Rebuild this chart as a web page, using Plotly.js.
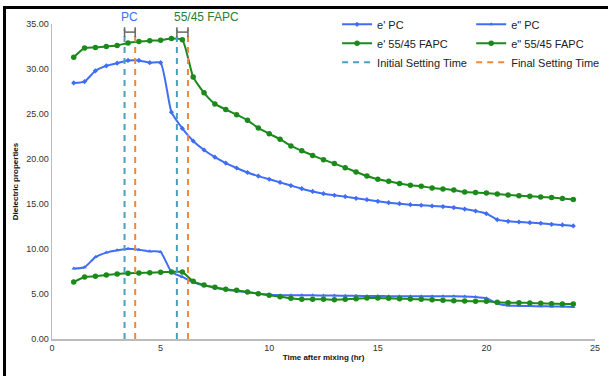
<!DOCTYPE html>
<html>
<head>
<meta charset="utf-8">
<script src="https://cdn.plot.ly/plotly-3.0.1.min.js"></script>
<style>
html,body{margin:0;padding:0;background:#fff;}
#wrap{position:relative;width:608px;height:376px;}
#chart{width:608px;height:376px;}
#bt{position:absolute;left:3px;top:6px;width:605px;height:3px;background:#000;}
#bl{position:absolute;left:3px;top:6px;width:3px;height:370px;background:#000;}
</style>
</head>
<body>
<div id="wrap"><div id="chart"></div><div id="bt"></div><div id="bl"></div></div>
<script>
const hours = [1,1.5,2,2.5,3,3.5,4,4.5,5,5.5,6,6.5,7,7.5,8,8.5,9,9.5,10,10.5,11,11.5,12,12.5,13,13.5,14,14.5,15,15.5,16,16.5,17,17.5,18,18.5,19,19.5,20,20.5,21,21.5,22,22.5,23,23.5,24];
const ePrimePC = [28.45,28.6,29.8,30.35,30.65,30.95,30.95,30.7,30.7,25.2,23.4,22.0,21.0,20.2,19.55,19.0,18.5,18.1,17.75,17.4,17.05,16.7,16.4,16.15,15.97,15.82,15.63,15.48,15.3,15.15,15.04,14.93,14.86,14.78,14.71,14.6,14.44,14.22,13.93,13.26,13.08,13.0,12.93,12.86,12.74,12.67,12.56];
const eDoublePC = [7.82,7.97,9.1,9.6,9.86,10.04,9.93,9.74,9.67,7.45,6.9,6.3,5.96,5.7,5.48,5.33,5.19,5.04,4.93,4.87,4.85,4.85,4.85,4.83,4.82,4.8,4.8,4.78,4.77,4.76,4.75,4.75,4.74,4.74,4.74,4.74,4.73,4.67,4.52,3.93,3.71,3.68,3.66,3.64,3.62,3.6,3.56];
const ePrimeFAPC = [31.3,32.33,32.4,32.5,32.6,32.9,33.05,33.15,33.2,33.4,33.25,29.1,27.35,26.12,25.5,24.92,24.3,23.45,22.8,22.2,21.45,20.92,20.4,19.93,19.49,19.04,18.56,18.11,17.74,17.52,17.27,17.08,16.97,16.78,16.67,16.55,16.33,16.27,16.22,16.11,16.0,15.93,15.86,15.78,15.71,15.6,15.49];
const eDoubleFAPC = [6.33,6.89,6.96,7.11,7.22,7.3,7.33,7.37,7.41,7.45,7.45,6.41,6.0,5.74,5.52,5.41,5.22,5.04,4.85,4.7,4.52,4.41,4.41,4.41,4.37,4.41,4.48,4.56,4.56,4.52,4.48,4.44,4.41,4.37,4.3,4.26,4.22,4.19,4.19,4.07,4.04,4.04,4.0,3.96,3.93,3.89,3.89];
const initialSet = [3.34, 5.75];   // PC, 55/45 FAPC
const finalSet = [3.83, 6.26];
const setLineTop = 34.4;
const rangeBarY = 34.1;
const xTicks = [0,5,10,15,20,25];
const yTicks = [0,5,10,15,20,25,30,35];

const BLUE = '#3f6ef5', GREEN = '#1b8a1b', TEAL = '#4aa0be', ORANGE = '#f0883a';

function vline(xs) {
  const x = [], y = [];
  xs.forEach((v, i) => { if (i) { x.push(null); y.push(null); } x.push(v, v); y.push(0, setLineTop); });
  return {x, y};
}
const iv = vline(initialSet), fv = vline(finalSet);

const traces = [
  {x: hours, y: ePrimePC, name: "e' PC", mode: 'lines+markers', legend: 'legend',
   line: {color: BLUE, width: 2, shape: 'spline', smoothing: 0.5}, marker: {color: BLUE, size: 4, symbol: 'diamond'}},
  {x: hours, y: eDoublePC, name: 'e" PC', mode: 'lines+markers', legend: 'legend2',
   line: {color: BLUE, width: 2, shape: 'spline', smoothing: 0.5}, marker: {color: BLUE, size: 4, symbol: 'triangle-up'}},
  {x: hours, y: ePrimeFAPC, name: "e' 55/45 FAPC", mode: 'lines+markers', legend: 'legend',
   line: {color: GREEN, width: 2, shape: 'spline', smoothing: 0.5}, marker: {color: GREEN, size: 5.5, symbol: 'circle'}},
  {x: hours, y: eDoubleFAPC, name: 'e" 55/45 FAPC', mode: 'lines+markers', legend: 'legend2',
   line: {color: GREEN, width: 2, shape: 'spline', smoothing: 0.5}, marker: {color: GREEN, size: 5.5, symbol: 'circle'}},
  {x: iv.x, y: iv.y, name: 'Initial Setting Time', mode: 'lines', legend: 'legend',
   line: {color: TEAL, width: 2, dash: '6px,5px'}},
  {x: fv.x, y: fv.y, name: 'Final Setting Time', mode: 'lines', legend: 'legend2',
   line: {color: ORANGE, width: 2, dash: '6px,5px'}},
  {x: [initialSet[0], finalSet[0], null, initialSet[1], finalSet[1]], y: [rangeBarY, rangeBarY, null, rangeBarY, rangeBarY],
   mode: 'lines+markers', showlegend: false, hoverinfo: 'skip',
   line: {color: '#666', width: 1.5}, marker: {symbol: 'line-ns-open', size: 7, color: '#666', line: {color: '#666', width: 1.5}}}
];

const legendCommon = {font: {family: 'Liberation Sans, Arial, sans-serif', size: 11, color: '#222'},
  bgcolor: 'rgba(0,0,0,0)', itemwidth: 30, tracegroupgap: 0, yanchor: 'top', xanchor: 'left'};

const layout = {
  width: 608, height: 376,
  margin: {l: 52, r: 13, t: 24, b: 37, autoexpand: false},
  paper_bgcolor: '#fff', plot_bgcolor: '#fff',
  font: {family: 'Liberation Sans, Arial, sans-serif', size: 9, color: '#333'},
  xaxis: {range: [0, 25], tickvals: xTicks, ticktext: xTicks.map(String), showgrid: false, zeroline: false,
    showline: true, linecolor: '#bbb', linewidth: 1.5, ticks: '', tickfont: {size: 9, color: '#333'}, automargin: false,
    title: {text: '<b>Time after mixing (hr)</b>', font: {size: 8, color: '#111'}, standoff: 2}},
  yaxis: {range: [0, 35], tickvals: yTicks, ticktext: yTicks.map(v => v.toFixed(2)), showgrid: false, zeroline: false,
    showline: true, linecolor: '#bbb', linewidth: 1.5, ticks: '', tickfont: {size: 9, color: '#333'}, automargin: false,
    title: {text: '<b>Dielectric properties</b>', font: {size: 8, color: '#111'}, standoff: 6}},
  legend: Object.assign({x: 0.525, y: 1.045}, legendCommon),
  legend2: Object.assign({x: 0.772, y: 1.045}, legendCommon),
  annotations: [
    {text: 'PC', x: (initialSet[0] + finalSet[0]) / 2, y: 1.0, xref: 'x', yref: 'paper', yanchor: 'bottom', showarrow: false,
     font: {size: 12, color: BLUE}, yshift: -2},
    {text: '55/45 FAPC', x: (initialSet[1] + finalSet[1]) / 2 + 1.1, y: 1.0, xref: 'x', yref: 'paper', yanchor: 'bottom', showarrow: false,
     font: {size: 12, color: '#2e7d32'}, yshift: -2}
  ],
  showlegend: true
};

Plotly.newPlot('chart', traces, layout, {displayModeBar: false, staticPlot: true});
</script>
</body>
</html>
